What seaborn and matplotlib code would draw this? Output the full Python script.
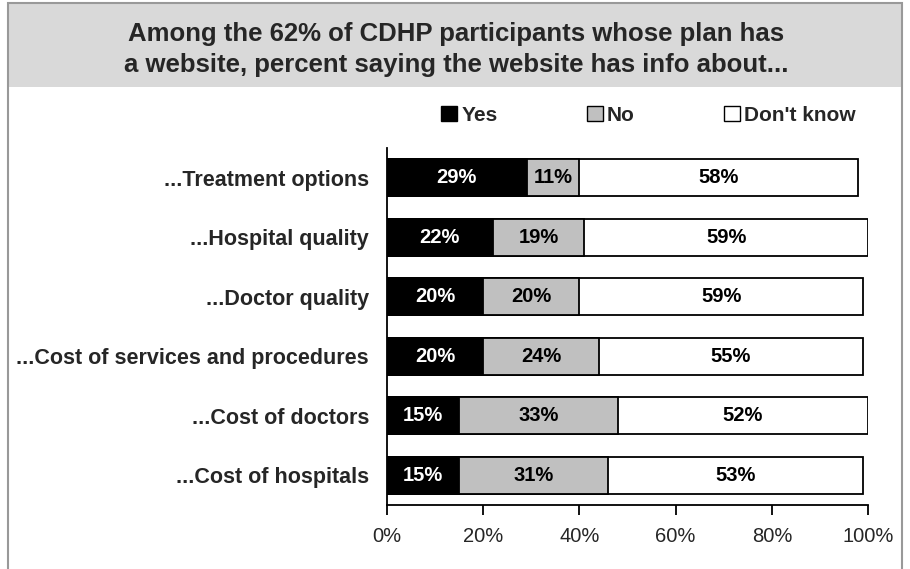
import pandas as pd
import numpy as np
import matplotlib.pyplot as plt
import seaborn as sns
from matplotlib.patches import Rectangle, Patch

# 資料
categories = ['...Treatment options', '...Hospital quality', '...Doctor quality',
              '...Cost of services and procedures', '...Cost of doctors', '...Cost of hospitals']
yes = [29, 22, 20, 20, 15, 15]
no = [11, 19, 20, 24, 33, 31]
dont_know = [58, 59, 59, 55, 52, 53]
x_ticks = [0, 20, 40, 60, 80, 100]

sns.set_style('white')
plt.rcParams['font.family'] = ['Liberation Sans', 'DejaVu Sans']

df = pd.DataFrame({'cat': categories, 'yes': yes, 'no': no, 'dk': dont_know})
df['yes_no'] = df['yes'] + df['no']
df['total'] = df['yes_no'] + df['dk']

fig = plt.figure(figsize=(9.1, 5.69), dpi=100)

# 標題底色與外框
fig.patches.append(Rectangle((0.0088, 0.847), 0.982, 0.148, transform=fig.transFigure,
                             facecolor='#d9d9d9', edgecolor='none', zorder=0))
fig.patches.append(Rectangle((0.0088, -0.01), 0.982, 1.005, transform=fig.transFigure,
                             facecolor='none', edgecolor='#999999', linewidth=1.5, zorder=1))
fig.text(0.501, 0.913, 'Among the 62% of CDHP participants whose plan has\n'
         'a website, percent saying the website has info about...',
         ha='center', va='center', fontsize=18.5, fontweight='bold', linespacing=1.4)

ax = fig.add_axes([0.4253, 0.1125, 0.5286, 0.6275])

# 疊加長條：先畫總和，再畫前兩段
bar_kw = dict(orient='h', edgecolor='black', linewidth=1.3, width=0.62, ax=ax)
sns.barplot(data=df, x='total', y='cat', color='white', saturation=1, **bar_kw)
sns.barplot(data=df, x='yes_no', y='cat', color='#c0c0c0', saturation=1, **bar_kw)
sns.barplot(data=df, x='yes', y='cat', color='black', saturation=1, **bar_kw)

lbl_kw = dict(ha='center', va='center', fontsize=14.5, fontweight='bold')
for i, row in df.iterrows():
    ax.text(row['yes'] / 2, i, f"{row['yes']}%", color='white', **lbl_kw)
    ax.text(row['yes'] + row['no'] / 2, i, f"{row['no']}%", color='black', **lbl_kw)
    ax.text(row['yes_no'] + row['dk'] / 2, i, f"{row['dk']}%", color='black', **lbl_kw)

ax.set_xlim(0, 100)
ax.set_ylim(5.5, -0.5)
ax.set_xticks(x_ticks)
ax.set_xticklabels([f'{t}%' for t in x_ticks], fontsize=14.5)
ax.tick_params(axis='x', bottom=True, direction='out', length=7, width=1.3, color='black', pad=9)
ax.tick_params(axis='y', left=False, length=0, pad=13)
for lbl in ax.get_yticklabels():
    lbl.set_fontsize(15.5)
    lbl.set_fontweight('bold')
ax.set_xlabel('')
ax.set_ylabel('')
for s in ['top', 'right']:
    ax.spines[s].set_visible(False)
for s in ['left', 'bottom']:
    ax.spines[s].set_color('black')
    ax.spines[s].set_linewidth(1.3)

handles = [Patch(facecolor='black', edgecolor='black', label='Yes'),
           Patch(facecolor='#c0c0c0', edgecolor='black', label='No'),
           Patch(facecolor='white', edgecolor='black', label="Don't know")]
fig.legend(handles=handles, ncol=3, frameon=False, loc='center left',
           bbox_to_anchor=(0.485, 0.797), prop={'size': 15, 'weight': 'bold'},
           handlelength=0.75, handleheight=0.75, handletextpad=0.2, columnspacing=4.3,
           borderaxespad=0, borderpad=0)

fig.savefig('out.png', dpi=100)
